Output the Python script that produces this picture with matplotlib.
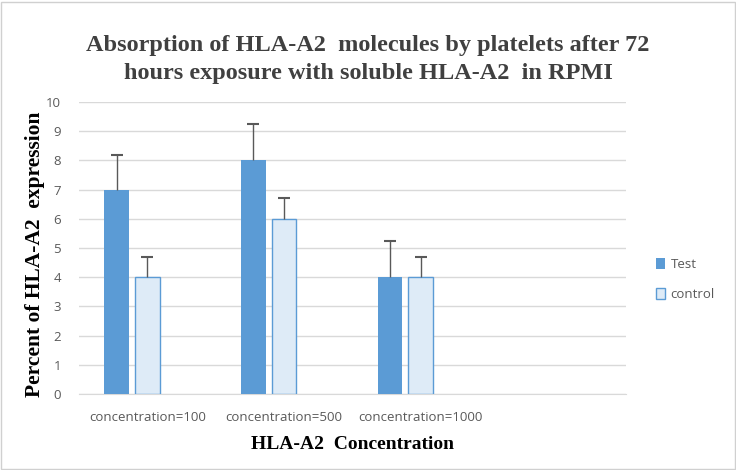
import matplotlib.pyplot as plt
import numpy as np

categories = ["concentration=100", "concentration=500", "concentration=1000", ""]
test_vals = [7, 8, 4]
control_vals = [4, 6, 4]
test_err = [1.2, 1.25, 1.25]
control_err = [0.7, 0.7, 0.7]

blue = "#5b9bd5"
light = "#deebf7"
grey_txt = "#595959"

fig = plt.figure(figsize=(7.36, 4.70), dpi=100)
ax = fig.add_axes([0.1073, 0.1617, 0.7427, 0.6213])

x = np.arange(len(test_vals))
w = 0.18
ax.bar(x - 0.225, test_vals, w, color=blue, label="Test", zorder=3)
ax.bar(x, control_vals, w, color=light, edgecolor=blue, linewidth=1, label="control", zorder=3)

# upper-only error bars, cap only at the top
for xs, vals, err in [(x - 0.225, test_vals, test_err), (x, control_vals, control_err)]:
    tops = np.array(vals) + np.array(err)
    ax.errorbar(xs, vals, yerr=[np.zeros(3), err], fmt="none",
                ecolor=grey_txt, elinewidth=1, capsize=0, zorder=4)
    ax.plot(xs, tops, ls="none", marker="_", ms=8, mew=1.5, color=grey_txt, zorder=4)

ax.set_xlim(-0.5, 3.5)
ax.set_ylim(0, 10)
ax.set_yticks(range(0, 11))
ax.set_xticks(range(len(categories)))
ax.set_xticklabels(categories)
ax.grid(axis="y", color="#d9d9d9", linewidth=1, zorder=0)
for s in ["top", "right", "left"]:
    ax.spines[s].set_visible(False)
ax.spines["bottom"].set_color("#d9d9d9")
ax.tick_params(length=0, labelsize=9.5, labelcolor=grey_txt)
ax.tick_params(axis="y", pad=13)
ax.tick_params(axis="x", pad=12)
for lab in ax.get_xticklabels() + ax.get_yticklabels():
    lab.set_family("Open Sans")

serif = "Liberation Serif"
fig.text(0.5, 0.873, "Absorption of HLA-A2  molecules by platelets after 72\nhours exposure with soluble HLA-A2  in RPMI",
         ha="center", va="center", family=serif, weight="bold", fontsize=17.5,
         color="#404040", linespacing=1.45)
ax.set_ylabel("Percent of HLA-A2  expression", family=serif, weight="bold",
              fontsize=15.5, color="black", labelpad=2)
ax.yaxis.set_label_coords(-0.062, 0.48)
ax.set_xlabel("HLA-A2  Concentration", family=serif, weight="bold",
              fontsize=14, color="black", labelpad=9)

leg = fig.legend(loc="center left", bbox_to_anchor=(0.875, 0.405), frameon=False,
                 handlelength=0.7, handleheight=0.9, handletextpad=0.4,
                 labelspacing=1.3, prop={"family": "Open Sans", "size": 9.5})
for t in leg.get_texts():
    t.set_color(grey_txt)

fig.patches.append(plt.Rectangle((0.002, 0.002), 0.996, 0.994, transform=fig.transFigure,
                                 fill=False, edgecolor="#d0d0d0", linewidth=1))

fig.savefig("out.png", dpi=100)
